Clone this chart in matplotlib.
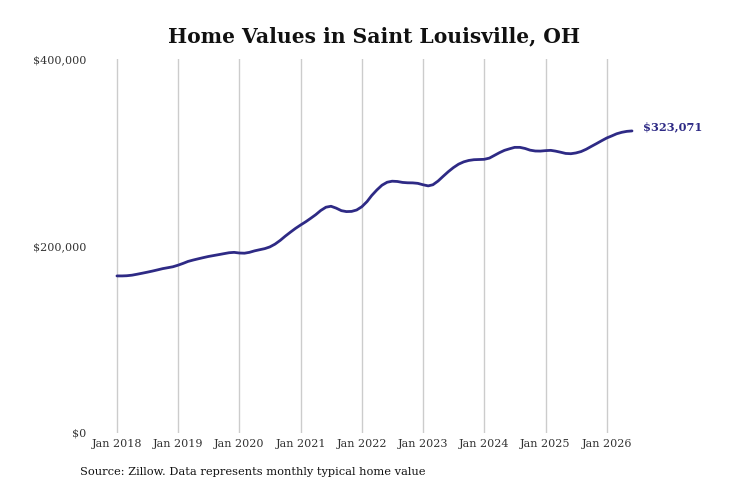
import matplotlib
matplotlib.use("Agg")
import matplotlib.pyplot as plt
import numpy as np
import pandas as pd

# Monthly typical home value, Jan 2018 .. Jun 2026
start_month = "2018-01-01"
values = [
    168.0, 168.0, 168.2, 168.8, 169.8, 170.9, 172.0, 173.2, 174.5, 175.8, 176.8, 177.8,
    179.5, 181.5, 183.5, 185.0, 186.3, 187.6, 188.8, 189.8, 190.8, 191.8, 192.8, 193.2,
    192.5, 192.3, 193.2, 194.8, 196.0, 197.2, 199.0, 202.0, 206.0, 210.5, 214.8, 218.8,
    222.5, 226.0, 229.5, 233.5, 238.0, 241.5, 242.5, 240.5, 237.8, 236.8, 237.0, 238.5,
    242.0, 247.5, 254.0, 260.0, 265.0, 268.2, 269.3, 269.0, 268.0, 267.6, 267.5, 267.0,
    265.5, 264.3, 265.5, 269.5, 274.5, 279.5, 283.8, 287.5, 290.0, 291.5, 292.3, 292.5,
    292.7, 294.0, 296.8, 299.8, 302.3, 304.0, 305.5, 305.5, 304.3, 302.5, 301.6, 301.5,
    302.0, 302.3, 301.5, 300.3, 299.0, 298.7, 299.5, 301.0, 303.5, 306.5, 309.5, 312.5,
    315.5, 317.8, 320.0, 321.6, 322.6, 323.071,
]
values = [v * 1000 for v in values]
tick_years = [2018, 2019, 2020, 2021, 2022, 2023, 2024, 2025, 2026]
tick_labels = ["Jan %d" % y for y in tick_years]
y_ticks = [0, 200000, 400000]
y_tick_labels = ["$0", "$200,000", "$400,000"]
title = "Home Values in Saint Louisville, OH"
source = "Source: Zillow. Data represents monthly typical home value"
end_label = "$323,071"

dates = pd.date_range(start_month, periods=len(values), freq="MS")

plt.rcParams["font.family"] = ["DejaVu Serif"]
line_color = "#2e2a85"

fig = plt.figure(figsize=(7.31, 4.87), dpi=100)
ax = fig.add_axes([95 / 731, 1 - 433 / 487, (660 - 95) / 731, (433 - 59) / 487])

ax.plot(dates, values, color=line_color, lw=2.0, solid_capstyle="round")

ax.set_ylim(0, 400000)
ax.set_yticks(y_ticks)
ax.set_yticklabels(y_tick_labels)
xt = pd.to_datetime(["%d-01-01" % y for y in tick_years])
ax.set_xticks(xt)
ax.set_xticklabels(tick_labels)
x0 = pd.Timestamp("2018-01-01") - pd.Timedelta(days=131)
x1 = pd.Timestamp("2026-11-15")
ax.set_xlim(x0, x1)

ax.grid(axis="x", color="#cccccc", lw=1)
ax.grid(axis="y", visible=False)
for s in ax.spines.values():
    s.set_visible(False)
ax.tick_params(axis="both", length=0, labelsize=8, colors="#333333")
ax.tick_params(axis="x", pad=4)
ax.tick_params(axis="y", pad=6)

ax.annotate(end_label, xy=(dates[-1], values[-1]), xytext=(8, 3),
            textcoords="offset points", va="center", ha="left",
            fontsize=8.2, fontweight="bold", color=line_color, annotation_clip=False)

fig.text(374 / 731, 1 - 36 / 487, title, ha="center", va="center",
         fontsize=14.6, fontweight="bold", color="#111111")
fig.text(80 / 731, 1 - 472 / 487, source, ha="left", va="center",
         fontsize=8.2, color="#111111")

fig.savefig("out.png", dpi=100, facecolor="white")
